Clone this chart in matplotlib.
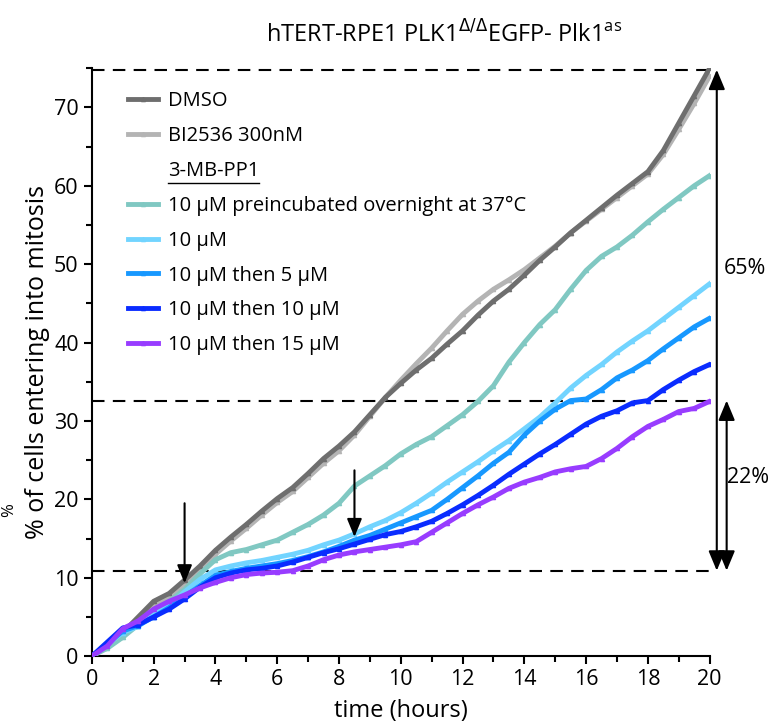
import numpy as np
import matplotlib.pyplot as plt
from matplotlib.lines import Line2D

plt.rcParams['font.family'] = ['Open Sans', 'DejaVu Sans']

# time points (hours)
t = np.arange(0, 20.01, 0.5)

dmso = [0, 1.5, 3, 5, 7, 8, 9.7, 11.5, 13.5, 15.2, 16.8, 18.5, 20.1, 21.5, 23.3, 25.2,
        26.8, 28.6, 30.8, 33, 34.8, 36.5, 38, 39.8, 41.5, 43.5, 45.3, 46.8, 48.6, 50.5,
        52.2, 54, 55.6, 57.2, 58.8, 60.3, 61.8, 64.5, 68, 71.5, 75]
bi2536 = [0, 1.2, 2.7, 4.6, 6.5, 7.6, 9.2, 11, 13, 14.7, 16.3, 18, 19.6, 21, 22.8, 24.6,
          26.2, 28.2, 30.6, 33, 35.2, 37.3, 39.3, 41.5, 43.6, 45.3, 46.8, 48, 49.3, 50.8,
          52.3, 54, 55.5, 57, 58.5, 60, 61.5, 64, 67.2, 70.5, 74]
pre_overnight = [0, 1.0, 2.4, 4, 5.8, 7, 8.5, 10.5, 12.3, 13.2, 13.6, 14.2, 14.8, 15.8,
                 16.8, 18, 19.5, 21.7, 23, 24.3, 25.8, 27, 28, 29.4, 30.8, 32.5, 34.5,
                 37.5, 40, 42.3, 44.2, 46.8, 49.2, 51, 52.2, 53.7, 55.4, 57, 58.5, 60, 61.3]
um10 = [0, 1.5, 3, 3.8, 5.3, 6.5, 8.2, 9.8, 11, 11.5, 11.9, 12.2, 12.6, 13, 13.5, 14.2,
        14.8, 15.6, 16.5, 17.3, 18.3, 19.5, 20.8, 22.2, 23.5, 24.8, 26.2, 27.5, 29, 30.5,
        32.3, 34.2, 35.8, 37.2, 38.8, 40.2, 41.5, 43, 44.5, 46, 47.5]
um10_5 = [0, 1.6, 3.2, 3.9, 5, 6.2, 7.6, 9, 10.3, 10.8, 11.2, 11.5, 11.8, 12.2, 12.7, 13.3,
          14, 14.8, 15.4, 16.2, 17, 17.8, 18.6, 20, 21.5, 23, 24.6, 26, 28.2, 30, 31.5,
          32.6, 32.8, 34, 35.5, 36.5, 37.7, 39.2, 40.6, 42, 43.1]
um10_10 = [0, 1.8, 3.6, 4, 5, 6, 7.3, 8.8, 10, 10.6, 11, 11.2, 11.5, 12, 12.6, 13.2, 13.7,
           14.3, 14.9, 15.5, 15.9, 16.5, 17.2, 18.2, 19.3, 20.5, 21.8, 23.2, 24.5, 25.8,
           27, 28.3, 29.6, 30.6, 31.3, 32.3, 32.6, 34, 35.2, 36.3, 37.2]
um10_15 = [0, 1.3, 3.5, 4.5, 6, 7, 7.8, 8.7, 9.4, 10, 10.4, 10.6, 10.7, 10.9, 11.5, 12.3,
           12.9, 13.3, 13.6, 13.9, 14.2, 14.6, 15.8, 17, 18.2, 19.3, 20.3, 21.4, 22.2, 22.8,
           23.5, 23.9, 24.2, 25.2, 26.5, 28, 29.3, 30.2, 31.2, 31.6, 32.5]

series = [dmso, bi2536, pre_overnight, um10, um10_5, um10_10, um10_15]
labels = ['DMSO', 'BI2536 300nM', '10 \u03bcM preincubated overnight at 37\u00b0C',
          '10 \u03bcM', '10 \u03bcM then 5 \u03bcM', '10 \u03bcM then 10 \u03bcM',
          '10 \u03bcM then 15 \u03bcM']
colors = ['#6e6e6e', '#b4b4b4', '#80c8c2', '#72d4ff', '#1798ff', '#0a2cff', '#983cff']

# reference levels and arrow positions
levels = [74.8, 32.6, 10.9]
treat_times = [3, 8.5]
treat_top = [19.5, 23.7]
treat_tip = [9.3, 15.2]

fig = plt.figure(figsize=(7.79, 7.25), dpi=100)
ax = fig.add_axes([0.118, 0.095, 0.793, 0.811])

# light gray first so DMSO sits on top
order = [1, 0, 2, 3, 4, 5, 6]
handles = {}
for i in order:
    l, = ax.plot(t, series[i], color=colors[i], lw=3.5, marker='^', ms=3,
                 label=labels[i], zorder=3 if i != 1 else 2.5)
    handles[i] = l

for lv in levels:
    ax.axhline(lv, xmin=0, xmax=1.0, color='black', lw=1.5, dashes=(6, 4), zorder=1)

for xt, y0, y1 in zip(treat_times, treat_top, treat_tip):
    ax.annotate('', xy=(xt, y1), xytext=(xt, y0),
                arrowprops=dict(arrowstyle='-|>,head_length=1.1,head_width=0.45',
                                color='black', lw=1.5, shrinkA=0, shrinkB=0))

ax.annotate('', xy=(20.23, levels[0]), xytext=(20.23, levels[2]),
            arrowprops=dict(arrowstyle='<|-|>,head_length=1.2,head_width=0.5',
                            color='black', lw=1.5, shrinkA=0, shrinkB=0),
            annotation_clip=False)
ax.annotate('', xy=(20.55, levels[1]), xytext=(20.55, levels[2]),
            arrowprops=dict(arrowstyle='<|-|>,head_length=1.2,head_width=0.5',
                            color='black', lw=1.5, shrinkA=0, shrinkB=0),
            annotation_clip=False)
ax.text(21.15, 49.5, '65%', fontsize=15.5, ha='center', va='center', clip_on=False)
ax.text(21.25, 22.8, '22%', fontsize=15.5, ha='center', va='center', clip_on=False)

ax.set_xlim(0, 20)
ax.set_ylim(0, 75)
ax.set_xticks(range(0, 21, 2))
ax.set_xticks(range(1, 20, 2), minor=True)
ax.set_yticks(range(0, 71, 10))
ax.set_yticks(range(5, 76, 10), minor=True)
ax.tick_params(labelsize=15.5, width=1.5, length=6)
ax.tick_params(which='minor', width=1.5, length=4)
for s in ['top', 'right']:
    ax.spines[s].set_visible(False)
for s in ['left', 'bottom']:
    ax.spines[s].set_linewidth(1.5)

ax.set_xlabel('time (hours)', fontsize=17, labelpad=6)
ax.set_ylabel('% of cells entering into mitosis', fontsize=18)
ax.yaxis.set_label_coords(-0.068, 0.5)
fig.text(0.57, 0.952, 'hTERT-RPE1 PLK1$^{\\Delta/\\Delta}$EGFP- Plk1$^{\\mathregular{as}}$',
         fontsize=17, ha='center', va='center')
fig.text(0.012, 1 - 510 / 725, '%', fontsize=12, rotation=90, ha='center', va='center')

blank = Line2D([], [], color='none')
hl = [handles[0], handles[1], blank, handles[2], handles[3], handles[4], handles[5], handles[6]]
ll = [labels[0], labels[1], '3-MB-PP1'] + labels[2:]
leg = ax.legend(hl, ll, loc='upper left', bbox_to_anchor=(0.045, 0.975), frameon=False,
                fontsize=14.5, handlelength=1.5, handletextpad=0.5, labelspacing=0.74,
                borderaxespad=0)

fig.canvas.draw()
txt = leg.get_texts()[2]
bb = txt.get_window_extent()
fig.add_artist(Line2D([bb.x0, bb.x1], [bb.y0 - 2, bb.y0 - 2], color='black', lw=1,
                      transform=None))

fig.savefig('out.png', dpi=100)
